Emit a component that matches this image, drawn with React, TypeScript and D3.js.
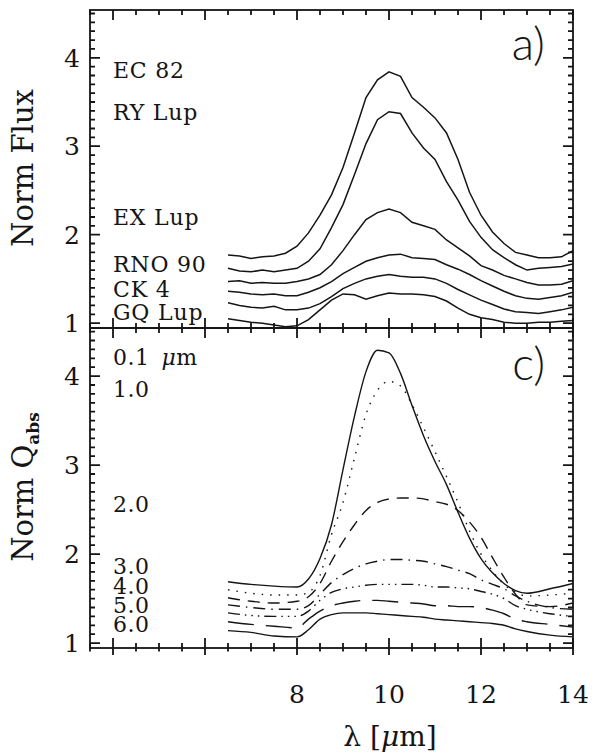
import React from "react";
import * as d3 from "d3";

// observed spectra (panel a), normalised flux on a common wavelength grid
const lambdaObs = [
  6.5, 6.75, 7.0, 7.25, 7.5, 7.75, 8.0, 8.25, 8.5, 8.75, 9.0, 9.25, 9.5, 9.75, 10.0, 10.25,
  10.5, 10.75, 11.0, 11.25, 11.5, 11.75, 12.0, 12.25, 12.5, 12.75, 13.0, 13.25, 13.5, 13.75, 14.0,
];
const fluxEC82 = [
  1.77, 1.76, 1.73, 1.75, 1.76, 1.79, 1.87, 2.02, 2.22, 2.45, 2.76, 3.15, 3.55, 3.75, 3.84, 3.79,
  3.55, 3.44, 3.32, 3.15, 2.85, 2.48, 2.22, 2.03, 1.9, 1.8, 1.77, 1.74, 1.74, 1.75, 1.82,
];
const fluxRYLup = [
  1.62, 1.59, 1.58, 1.6, 1.58, 1.6, 1.62, 1.7, 1.84, 2.08, 2.34, 2.68, 3.03, 3.3, 3.39, 3.37,
  3.15, 2.98, 2.85, 2.6, 2.39, 2.15, 1.97, 1.83, 1.74, 1.66, 1.6, 1.62, 1.63, 1.64, 1.67,
];
const fluxEXLup = [
  1.47, 1.48, 1.45, 1.46, 1.45, 1.45, 1.47, 1.5, 1.55, 1.66, 1.82, 2.0, 2.17, 2.25, 2.29, 2.25,
  2.14, 2.1, 2.06, 1.94, 1.85, 1.76, 1.65, 1.6, 1.54, 1.5, 1.46, 1.43, 1.43, 1.44, 1.48,
];
const fluxRNO90 = [
  1.36, 1.35, 1.33, 1.32, 1.33, 1.31, 1.31, 1.35, 1.4, 1.47, 1.56, 1.63, 1.7, 1.74, 1.77, 1.78,
  1.74, 1.73, 1.72, 1.66, 1.61, 1.55, 1.48, 1.42, 1.36, 1.31, 1.28, 1.27, 1.29, 1.31, 1.35,
];
const fluxCK4 = [
  1.23, 1.2, 1.18, 1.17, 1.19, 1.15, 1.15, 1.17, 1.22, 1.3, 1.39, 1.45, 1.5, 1.53, 1.55, 1.53,
  1.52, 1.52, 1.5, 1.45, 1.38, 1.32, 1.26, 1.21, 1.16, 1.13, 1.12, 1.11, 1.13, 1.15, 1.18,
];
const fluxGQLup = [
  1.05, 1.03, 1.01, 1.0, 0.98, 0.96, 0.97, 1.04, 1.15, 1.26, 1.33, 1.32, 1.27, 1.31, 1.34, 1.33,
  1.33, 1.32, 1.3, 1.25, 1.17, 1.1, 1.06, 1.04, 1.01, 1.0, 1.0, 1.01, 1.01, 1.02, 1.03,
];
const starNames = ["EC 82", "RY Lup", "EX Lup", "RNO 90", "CK 4", "GQ Lup"];

// model absorption efficiencies (panel c) for grain sizes 0.1 .. 6.0 micron
const lambdaModel = [
  6.5, 7.0, 7.5, 8.0, 8.25, 8.5, 8.75, 9.0, 9.25, 9.5, 9.75, 10.0, 10.25, 10.5, 10.75, 11.0,
  11.25, 11.5, 11.75, 12.0, 12.25, 12.5, 12.75, 13.0, 13.5, 14.0,
];
const qabs01 = [
  1.69, 1.66, 1.64, 1.63, 1.72, 1.95, 2.33, 2.95, 3.55, 4.05, 4.29, 4.26, 4.03, 3.67, 3.33, 3.04,
  2.78, 2.47, 2.18, 1.95, 1.79, 1.67, 1.59, 1.56, 1.61, 1.67,
];
const qabs10 = [
  1.6, 1.56, 1.54, 1.54, 1.57, 1.76, 2.22, 2.58, 3.08, 3.57, 3.84, 3.94, 3.89, 3.68, 3.42, 3.15,
  2.87, 2.58, 2.26, 2.0, 1.81, 1.66, 1.57, 1.53, 1.54, 1.56,
];
const qabs20 = [
  1.51, 1.47, 1.45, 1.47, 1.52, 1.67, 1.92, 2.14, 2.33, 2.49, 2.58, 2.62, 2.63, 2.63, 2.62, 2.59,
  2.56, 2.49, 2.36, 2.19, 1.96, 1.74, 1.55, 1.43, 1.41, 1.45,
];
const qabs30 = [
  1.43, 1.4, 1.38, 1.38, 1.42, 1.55, 1.68, 1.77, 1.84, 1.89, 1.92, 1.94, 1.94, 1.93, 1.92, 1.89,
  1.86, 1.82, 1.78, 1.71, 1.66, 1.61, 1.53, 1.47, 1.4, 1.38,
];
const qabs40 = [
  1.34, 1.31, 1.3, 1.3, 1.36, 1.48, 1.57, 1.61, 1.63, 1.65, 1.66, 1.66, 1.66, 1.66, 1.65, 1.63,
  1.63, 1.62, 1.61, 1.58, 1.55, 1.5, 1.42, 1.38, 1.33, 1.3,
];
const qabs50 = [
  1.24, 1.21, 1.19, 1.17, 1.27, 1.36, 1.42, 1.45, 1.47, 1.48, 1.48, 1.47, 1.46, 1.45, 1.44, 1.42,
  1.42, 1.41, 1.41, 1.4, 1.37, 1.33, 1.27, 1.24, 1.21, 1.18,
];
const qabs60 = [
  1.14, 1.12, 1.08, 1.07, 1.15, 1.27, 1.32, 1.34, 1.34, 1.34, 1.33, 1.32, 1.31, 1.3, 1.29, 1.27,
  1.26, 1.25, 1.24, 1.23, 1.22, 1.2, 1.16, 1.13, 1.09, 1.07,
];
const grainSizes = ["0.1", "1.0", "2.0", "3.0", "4.0", "5.0", "6.0"];

const xTickLabels = [8, 10, 12, 14];
const yTickLabels = [1, 2, 3, 4];

const W = 596;
const H = 754;
const left = 90;
const right = 573;
const serif = "'DejaVu Serif', 'Liberation Serif', serif";
const ink = "#151515";

// IDL linestyles 0..5, then wraps back to solid
const dashes = ["none", "1.5 7", "12 8", "12 6 1.5 6", "12 5 1.5 5 1.5 5 1.5 5", "26 12", "none"];

const x = d3.scaleLinear().domain([3.5, 14]).range([left, right]);
const yTop = d3.scaleLinear().domain([0.945, 4.54]).range([328, 10]);
const yBot = d3.scaleLinear().domain([0.945, 4.54]).range([648, 328]);

// tick marks of one panel as a single path
function tickPath(y, top, bottom, crossBottom) {
  let d = "";
  d3.range(3.5, 14.01, 0.5).forEach((v) => {
    const major = Math.abs(v % 2) < 1e-6;
    const len = major ? 10 : 5;
    const px = x(v).toFixed(1);
    d += `M${px},${top}V${top + len}`;
    d += `M${px},${bottom - len}V${crossBottom ? bottom + len * 0.7 : bottom}`;
  });
  d3.range(10, 46, 1).forEach((k) => {
    const len = k % 10 === 0 ? 10 : 5;
    const py = y(k / 10).toFixed(1);
    d += `M${left},${py}H${left + len}`;
    d += `M${right - len},${py}H${right}`;
  });
  return d;
}

const Frame = ({ y, top, bottom, crossBottom }) => (
  <g>
    <path d={tickPath(y, top, bottom, crossBottom)} stroke={ink} strokeWidth={1.8} fill="none" />
    <rect x={left} y={top} width={right - left} height={bottom - top} stroke={ink} strokeWidth={1.8} fill="none" />
  </g>
);

const YLabels = ({ y }) => (
  <g fill={ink} fontFamily={serif} fontSize={25} textAnchor="end">
    {yTickLabels.map((t) => (
      <text key={t} x={80} y={y(t) + 9}>
        {t}
      </text>
    ))}
  </g>
);

export default function App() {
  const spectra = [fluxEC82, fluxRYLup, fluxEXLup, fluxRNO90, fluxCK4, fluxGQLup];
  const models = [qabs01, qabs10, qabs20, qabs30, qabs40, qabs50, qabs60];

  const lineTop = d3
    .line<number>()
    .x((_, i) => x(lambdaObs[i]))
    .y((d) => yTop(d))
    .curve(d3.curveLinear);
  const lineBot = d3
    .line<number>()
    .x((_, i) => x(lambdaModel[i]))
    .y((d) => yBot(d))
    .curve(d3.curveMonotoneX);

  const starLabelY = [78, 120, 225, 272, 297, 320];
  const sizeLabelY = [365, 397, 512, 574, 594, 613, 632];

  return (
    <svg width={W} height={H} style={{ position: "absolute", left: 0, top: 0 }}>
      <defs>
        <clipPath id="clipTop">
          <rect x={left} y={10} width={right - left} height={318} />
        </clipPath>
        <clipPath id="clipBot">
          <rect x={left} y={328} width={right - left} height={320} />
        </clipPath>
      </defs>
      <rect x={0} y={0} width={W} height={H} fill="#fff" />

      {/* panel a */}
      <g clipPath="url(#clipTop)" fill="none" stroke={ink} strokeWidth={1.5}>
        {spectra.map((s, i) => (
          <path key={i} d={lineTop(s) || ""} />
        ))}
      </g>

      {/* panel c */}
      <g clipPath="url(#clipBot)" fill="none" stroke={ink} strokeWidth={1.4}>
        {models.map((s, i) => (
          <path key={i} d={lineBot(s) || ""} strokeDasharray={dashes[i]} />
        ))}
      </g>

      <Frame y={yTop} top={10} bottom={328} crossBottom={false} />
      <Frame y={yBot} top={328} bottom={648} crossBottom={true} />
      <YLabels y={yTop} />
      <YLabels y={yBot} />

      <g fontFamily={serif} fontSize={22} fill={ink}>
        {starNames.map((n, i) => (
          <text key={n} x={113} y={starLabelY[i]} letterSpacing={0.8}>
            {n}
          </text>
        ))}
        {grainSizes.map((n, i) => (
          <text key={n} x={113} y={sizeLabelY[i]} letterSpacing={0.5}>
            {n}
            {i === 0 ? (
              <tspan dx={12} fontStyle="italic">
                μ
              </tspan>
            ) : null}
            {i === 0 ? <tspan>m</tspan> : null}
          </text>
        ))}
      </g>

      <g fontFamily="Lato, 'Open Sans', sans-serif" fontWeight={300} fontSize={46} fill={ink} textAnchor="end">
        <text x={545} y={60}>
          a)
        </text>
        <text x={545} y={380}>
          c)
        </text>
      </g>

      {/* shared x axis labels */}
      <g fontFamily={serif} fontSize={25} fill={ink} textAnchor="middle">
        {xTickLabels.map((t) => (
          <text key={t} x={x(t)} y={703}>
            {t}
          </text>
        ))}
      </g>
      <text x={390} y={746} textAnchor="middle" fontFamily={serif} fontSize={28} fill={ink}>
        λ [<tspan fontStyle="italic">μ</tspan>m]
      </text>

      {/* y titles */}
      <text transform="translate(33,168) rotate(-90)" textAnchor="middle" fontFamily={serif} fontSize={29} fill={ink}>
        Norm Flux
      </text>
      <text transform="translate(33,487) rotate(-90)" textAnchor="middle" fontFamily={serif} fontSize={29} fill={ink}>
        Norm Q
        <tspan fontSize={17} dy={6} fontWeight="bold">
          abs
        </tspan>
      </text>
    </svg>
  );
}
